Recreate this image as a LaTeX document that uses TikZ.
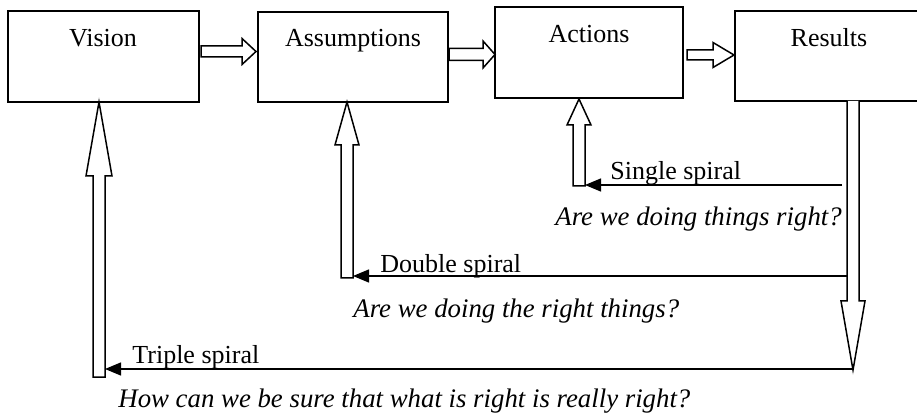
\documentclass[tikz,border=0pt]{standalone}
\usepackage{fontspec}
\setmainfont{Liberation Serif}
\usetikzlibrary{arrows.meta,fit}
\begin{document}
\begin{tikzpicture}[x=0.5pt,y=-0.5pt,
  box/.style={draw,line width=0.9pt,inner sep=0pt},
  lbl/.style={inner sep=0pt,anchor=base,font=\fontsize{13}{15}\selectfont},
  txt/.style={inner sep=0pt,anchor=base west,font=\fontsize{13}{15}\selectfont},
  q/.style={txt,font=\fontsize{13.4}{15}\selectfont\itshape},
  blk/.style={draw,line width=0.75pt,fill=white,line join=miter},
  fb/.style={draw,line width=0.7pt,-{Triangle[length=8pt,width=6.5pt]}}]
\useasboundingbox (0,0) rectangle (917,417);
\clip (0,0) rectangle (917,417);
% boxes
\node[box,line width=1.1pt,fit={(8,11) (199,102)}] (vision) {};
\node[box,fit={(258,12) (448,102)}] (assum) {};
\node[box,fit={(495,7) (683,98)}] (actions) {};
\node[box,fit={(735,11) (921,101)}] (results) {};
\node[lbl] (tv) at (103,47) {Vision};
\node[lbl] (ta) at (353,47) {Assumptions};
\node[lbl] (tac) at (589,43) {Actions};
\node[lbl] (tr) at (829,47) {Results};
% horizontal block arrows
\draw[blk] (201,46) -- (242,46) -- (242,38.5) -- (256,51.5) -- (242,64.5) -- (242,57) -- (201,57) -- cycle;
\draw[blk] (449,48.5) -- (483,48.5) -- (483,41) -- (495,54.5) -- (483,68) -- (483,60.5) -- (449,60.5) -- cycle;
\draw[blk] (687,50) -- (713,50) -- (713,42.5) -- (734,55) -- (713,67.5) -- (713,60) -- (687,60) -- cycle;
% vertical block arrows
\draw[blk] (93,377) -- (93,176) -- (86,176) -- (99,102) -- (112,176) -- (105,176) -- (105,377) -- cycle;
\draw[blk] (341,278) -- (341,145) -- (335,145) -- (347,102) -- (359,145) -- (353,145) -- (353,278) -- cycle;
\draw[blk] (573,186) -- (573,125) -- (567,125) -- (579,99) -- (591,125) -- (585,125) -- (585,186) -- cycle;
\draw[blk] (847,101) -- (847,301) -- (841,301) -- (853,370) -- (865,301) -- (859,301) -- (859,101);
% feedback lines
\coordinate (s1) at (842,185);
\coordinate (e1) at (585,185);
\coordinate (s2) at (847,276);
\coordinate (e2) at (353,276);
\coordinate (s3) at (853,369);
\coordinate (e3) at (105,369);
\draw[fb] (s1) -- (e1);
\draw[fb] (s2) -- (e2);
\draw[fb] (s3) -- (e3);
% labels
\node[txt] (l1) at (610,180) {Single spiral};
\node[q] (q1) at (555,226) {Are we doing things right?};
\node[txt] (l2) at (380,272) {Double spiral};
\node[q] (q2) at (353,318) {Are we doing the right things?};
\node[txt] (l3) at (132,364) {Triple spiral};
\node[q] (q3) at (118,408) {How can we be sure that what is right is really right?};
\end{tikzpicture}
\end{document}
